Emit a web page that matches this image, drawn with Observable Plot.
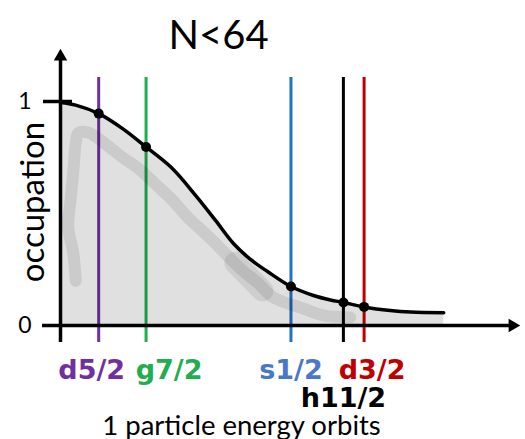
<!DOCTYPE html>
<html>
<head>
<meta charset="utf-8">
<script src="https://cdn.jsdelivr.net/npm/d3@7"></script>
<script src="https://cdn.jsdelivr.net/npm/@observablehq/plot@0.6"></script>
<style>
  html, body { margin: 0; padding: 0; background: #fff; overflow: hidden; }
</style>
</head>
<body>
<div id="chart"></div>
<script>
// ---- data ----
const title = "N<64";
const yLabel = "occupation";
const xLabel = "1 particle energy orbits";
const yTicks = [0, 1];

const orbitals = ["d5/2", "g7/2", "s1/2", "h11/2", "d3/2"];
const orbitalEnergy = [0.83, 1.86, 5.01, 6.15, 6.60];
const orbitalOccupation = [0.946, 0.797, 0.174, 0.103, 0.083];

const curveEnergy = [0, 0.33, 0.83, 1.35, 1.86, 2.41, 2.94, 3.37, 3.76, 4.13, 4.50, 5.01, 5.50, 5.87, 6.15, 6.60, 7.17, 7.61, 8.33];
const curveOccupation = [0.996, 0.984, 0.946, 0.879, 0.797, 0.705, 0.580, 0.469, 0.366, 0.295, 0.241, 0.174, 0.134, 0.114, 0.103, 0.083, 0.067, 0.060, 0.057];

// hand-drawn grey band (sketch of the occupation estimate)
const sketchEnergy = [0.33, 0.28, 0.17, 0.22, 0.28, 0.33, 0.39, 0.61, 0.98, 1.35, 1.70, 2.07, 2.43, 2.78, 3.15, 3.52, 3.91, 4.28, 4.63, 5.22, 5.72, 6.30];
const sketchOccupation = [0.20, 0.32, 0.44, 0.56, 0.69, 0.81, 0.86, 0.86, 0.81, 0.75, 0.70, 0.63, 0.56, 0.48, 0.41, 0.335, 0.254, 0.192, 0.125, 0.080, 0.045, 0.036];
const blobEnergy = [3.80, 4.39];
const blobOccupation = [0.28, 0.156];

// ---- styles ----
const lineColor = {"d5/2": "#7030a0", "g7/2": "#1fae50", "s1/2": "#1f74c0", "h11/2": "#000000", "d3/2": "#c00000"};
const textColor = {"d5/2": "#7030a0", "g7/2": "#1fae50", "s1/2": "#4a78c8", "h11/2": "#000000", "d3/2": "#c00000"};
const labelShift = {"d5/2": [-7, 36], "g7/2": [23, 36], "s1/2": [0, 36], "h11/2": [0, 64], "d3/2": [8, 36]};

const curve = curveEnergy.map((e, i) => ({energy: e, occupation: curveOccupation[i]}));
const sketch = sketchEnergy.map((e, i) => ({energy: e, occupation: sketchOccupation[i]}));
const blob = blobEnergy.map((e, i) => ({energy: e, occupation: blobOccupation[i]}));
const points = orbitals.map((o, i) => ({orbital: o, energy: orbitalEnergy[i], occupation: orbitalOccupation[i]}));

const chart = Plot.plot({
  width: 525,
  height: 439,
  marginLeft: 42,
  marginRight: 5,
  marginTop: 55,
  marginBottom: 97,
  x: {domain: [0, 10], range: [60, 520], axis: null},
  y: {domain: [0, 1], range: [325, 101], axis: null},
  style: {fontFamily: "Lato, sans-serif", background: "#fff", color: "#000"},
  marks: [
    // orbital energy lines
    Plot.ruleX(points, {x: "energy", stroke: d => lineColor[d.orbital], strokeWidth: 3, insetTop: 22}),
    // grey shaded area and sketch
    Plot.areaY(curve, {x: "energy", y: "occupation", curve: "catmull-rom", fill: "#000", fillOpacity: 0.12}),
    Plot.line(sketch, {x: "energy", y: "occupation", curve: "catmull-rom", stroke: "#000", strokeOpacity: 0.09, strokeWidth: 12, strokeLinecap: "round", strokeLinejoin: "round"}),
    Plot.line(blob, {x: "energy", y: "occupation", stroke: "#000", strokeOpacity: 0.08, strokeWidth: 22, strokeLinecap: "round"}),
    // occupation curve
    Plot.line(curve, {x: "energy", y: "occupation", curve: "catmull-rom", stroke: "#000", strokeWidth: 3.5, strokeLinecap: "round"}),
    Plot.dot(points, {x: "energy", y: "occupation", r: 5, fill: "#000"}),
    // axes
    Plot.ruleY([0], {strokeWidth: 3.5, insetRight: 6}),
    Plot.ruleX([0], {strokeWidth: 3.5}),
    Plot.ruleY([1], {strokeWidth: 3.5, insetLeft: 1, insetRight: 448}),
    Plot.dot([0], {y: d => d, frameAnchor: "right", symbol: "triangle", rotate: 90, r: 5, fill: "#000", dx: -8}),
    Plot.dot([0], {x: d => d, frameAnchor: "top", symbol: "triangle", r: 5, fill: "#000", dy: 1}),
    Plot.axisY({ticks: yTicks, tickSize: 0, tickPadding: 11, fontSize: 23, label: null, tickFormat: d => String(d)}),
    // orbital labels
    ...orbitals.map((o, i) => Plot.text([points[i]], {
      x: "energy", text: "orbital", frameAnchor: "bottom", lineAnchor: "bottom",
      dx: labelShift[o][0], dy: labelShift[o][1],
      fill: textColor[o], fontSize: 27, fontWeight: "bold", fontFamily: "DejaVu Sans"
    })),
    // titles
    Plot.text([title], {text: d => d, frameAnchor: "top", lineAnchor: "bottom", dx: -63, dy: -7, fontSize: 40}),
    Plot.text([yLabel], {text: d => d, frameAnchor: "left", textAnchor: "middle", rotate: -90, lineAnchor: "middle", dx: -9, dy: 3, fontSize: 33}),
    Plot.text([xLabel], {text: d => d, frameAnchor: "bottom", lineAnchor: "bottom", dx: -40, dy: 92, fontSize: 27.5})
  ]
});
document.getElementById("chart").append(chart);
</script>
</body>
</html>
